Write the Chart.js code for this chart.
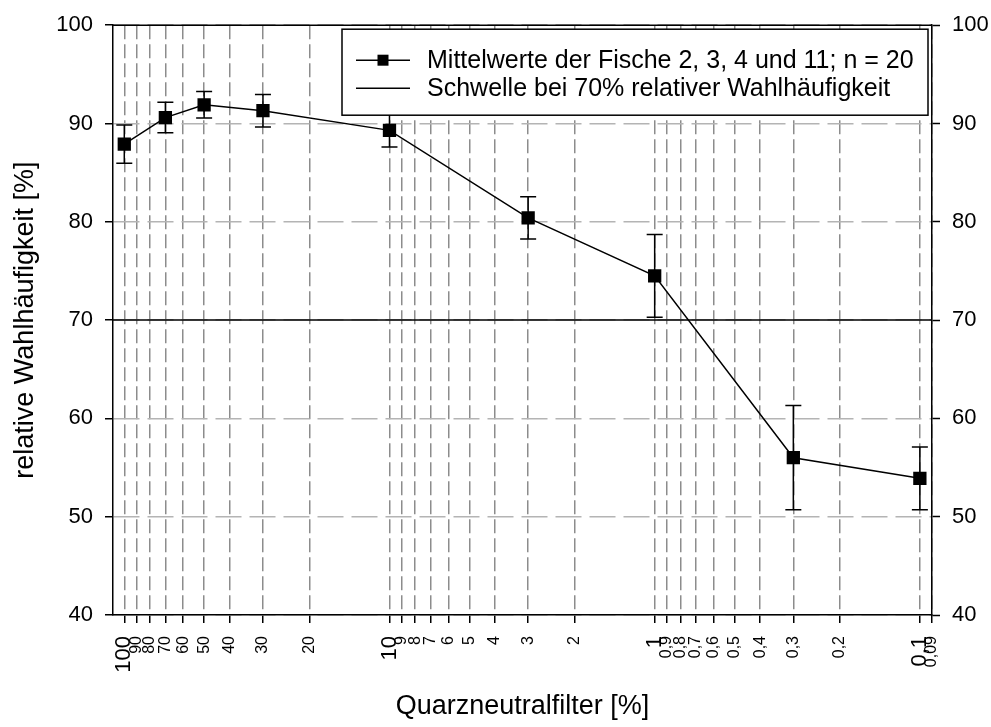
<!DOCTYPE html>
<html>
<head>
<meta charset="utf-8">
<title>Wahlhäufigkeit</title>
<script src="https://cdn.jsdelivr.net/npm/chart.js@4.4.1/dist/chart.umd.min.js"></script>
<style>
  html, body { margin: 0; padding: 0; background: #fff; }
  #wrap { width: 991px; height: 727px; }
</style>
</head>
<body>
<div id="wrap"><canvas id="wahlChart"></canvas></div>
<script>
// Filterstufen [%], Mittelwerte und Fehler der relativen Wahlhäufigkeit [%]
var filterWerte = [100, 70, 50, 30, 10, 3, 1, 0.3, 0.1];
var mittelwerte = [87.9, 90.6, 91.9, 91.3, 89.3, 80.4, 74.5, 56.0, 53.9];
var fehler = [1.95, 1.55, 1.35, 1.65, 1.7, 2.15, 4.2, 5.3, 3.2];

var schwelle = 70;

// Achsen
var xMin = 0.09, xMax = 110.3;
var xTicks = [100, 90, 80, 70, 60, 50, 40, 30, 20,
              10, 9, 8, 7, 6, 5, 4, 3, 2,
              1, 0.9, 0.8, 0.7, 0.6, 0.5, 0.4, 0.3, 0.2,
              0.1, 0.09];
var xTickLabels = ["100", "90", "80", "70", "60", "50", "40", "30", "20",
                   "10", "9", "8", "7", "6", "5", "4", "3", "2",
                   "1", "0,9", "0,8", "0,7", "0,6", "0,5", "0,4", "0,3", "0,2",
                   "0,1", "0,09"];
var yTicks = [40, 50, 60, 70, 80, 90, 100];

var schrift = "'Liberation Sans', Arial, sans-serif";

function istDekade(v) {
    var l = Math.log10(v);
    return Math.abs(l - Math.round(l)) < 1e-9;
}

// Fehlerbalken für die Mittelwerte
var fehlerbalken = {
    id: "fehlerbalken",
    afterDatasetsDraw: function(chart) {
        var ctx = chart.ctx;
        var xs = chart.scales.x, ys = chart.scales.y;
        ctx.save();
        ctx.strokeStyle = "#000";
        ctx.lineWidth = 1.5;
        for (var i = 0; i < filterWerte.length; i++) {
            var px = xs.getPixelForValue(filterWerte[i]);
            var top = ys.getPixelForValue(mittelwerte[i] + fehler[i]);
            var bot = ys.getPixelForValue(mittelwerte[i] - fehler[i]);
            ctx.beginPath();
            ctx.moveTo(px, top); ctx.lineTo(px, bot);
            ctx.moveTo(px - 8, top); ctx.lineTo(px + 8, top);
            ctx.moveTo(px - 8, bot); ctx.lineTo(px + 8, bot);
            ctx.stroke();
        }
        // obere Rahmenlinie
        var a = chart.chartArea;
        ctx.beginPath();
        ctx.moveTo(a.left, a.top); ctx.lineTo(a.right, a.top);
        ctx.stroke();
        ctx.restore();
    }
};

// Legende im Diagrammfeld oben rechts
var legende = {
    id: "legende",
    afterDraw: function(chart) {
        var ctx = chart.ctx, a = chart.chartArea;
        var x0 = 342, y0 = a.top + 4, x1 = a.right - 4, y1 = a.top + 90;
        var ds = chart.data.datasets;
        ctx.save();
        ctx.fillStyle = "#fff";
        ctx.fillRect(x0, y0, x1 - x0, y1 - y0);
        ctx.strokeStyle = "#000";
        ctx.lineWidth = 1.5;
        ctx.strokeRect(x0, y0, x1 - x0, y1 - y0);

        ctx.font = "25px " + schrift;
        ctx.fillStyle = "#000";
        ctx.textBaseline = "alphabetic";
        for (var i = 0; i < ds.length; i++) {
            var ly = y0 + 31 + i * 28;
            ctx.beginPath();
            ctx.moveTo(x0 + 14, ly); ctx.lineTo(x0 + 68, ly);
            ctx.stroke();
            if (i === 0) {
                ctx.fillRect(x0 + 41 - 5.5, ly - 5.5, 11, 11);
            }
            ctx.fillText(ds[i].label, x0 + 85, ly + 8);
        }
        ctx.restore();
    }
};

var punkte = filterWerte.map(function(v, i) { return { x: v, y: mittelwerte[i] }; });

new Chart(document.getElementById("wahlChart"), {
    type: "line",
    data: {
        datasets: [{
            label: "Mittelwerte der Fische 2, 3, 4 und 11; n = 20",
            data: punkte,
            borderColor: "#000",
            borderWidth: 1.5,
            backgroundColor: "#000",
            pointStyle: "rect",
            pointRadius: 9.4,
            pointHoverRadius: 9.4,
            pointBorderWidth: 0,
            tension: 0
        }, {
            label: "Schwelle bei 70% relativer Wahlhäufigkeit",
            data: [{ x: xMax, y: schwelle }, { x: xMin, y: schwelle }],
            borderColor: "#000",
            borderWidth: 1.5,
            pointRadius: 0,
            pointHoverRadius: 0
        }]
    },
    options: {
        responsive: true,
        maintainAspectRatio: false,
        animation: false,
        layout: { padding: { top: 25, bottom: 0, left: 0, right: 0 } },
        plugins: {
            legend: { display: false },
            tooltip: { enabled: false }
        },
        scales: {
            x: {
                type: "logarithmic",
                reverse: true,
                min: xMin,
                max: xMax,
                afterBuildTicks: function(scale) {
                    scale.ticks = xTicks.map(function(v) { return { value: v }; });
                },
                afterFit: function(scale) { scale.height = 112; },
                ticks: {
                    autoSkip: false,
                    minRotation: 90,
                    maxRotation: 90,
                    padding: 13,
                    color: "#000",
                    font: function(c) {
                        var v = c.tick ? c.tick.value : 1;
                        return { family: schrift, size: istDekade(v) ? 22 : 16 };
                    },
                    callback: function(value, index) { return xTickLabels[index]; }
                },
                grid: {
                    color: "#8c8c8c",
                    lineWidth: 1.5,
                    tickColor: "#000",
                    tickLength: 8,
                    tickWidth: 1.5
                },
                border: { color: "#000", width: 1.5, dash: [14, 5] },
                title: {
                    display: true,
                    text: "Quarzneutralfilter [%]",
                    color: "#000",
                    font: { family: schrift, size: 27 },
                    padding: { top: 0, bottom: 4 }
                }
            },
            y: {
                type: "linear",
                position: "left",
                min: 40,
                max: 100,
                afterBuildTicks: function(scale) {
                    scale.ticks = yTicks.map(function(v) { return { value: v }; });
                },
                afterFit: function(scale) { scale.width = 113; },
                ticks: {
                    padding: 12,
                    color: "#000",
                    font: { family: schrift, size: 22 }
                },
                grid: {
                    color: "#b4b4b4",
                    lineWidth: 1.5,
                    tickColor: "#000",
                    tickLength: 8,
                    tickWidth: 1.5
                },
                border: { color: "#000", width: 1.5, dash: [26, 8] },
                title: {
                    display: true,
                    text: "relative Wahlhäufigkeit [%]",
                    color: "#000",
                    font: { family: schrift, size: 27 },
                    padding: { top: 9, bottom: 0 }
                }
            },
            y2: {
                type: "linear",
                position: "right",
                min: 40,
                max: 100,
                afterBuildTicks: function(scale) {
                    scale.ticks = yTicks.map(function(v) { return { value: v }; });
                },
                afterFit: function(scale) { scale.width = 59; },
                ticks: {
                    padding: 12,
                    color: "#000",
                    font: { family: schrift, size: 22 }
                },
                grid: {
                    drawOnChartArea: false,
                    tickColor: "#000",
                    tickLength: 8,
                    tickWidth: 1.5
                },
                border: { color: "#000", width: 1.5 }
            }
        }
    },
    plugins: [fehlerbalken, legende]
});
</script>
</body>
</html>
